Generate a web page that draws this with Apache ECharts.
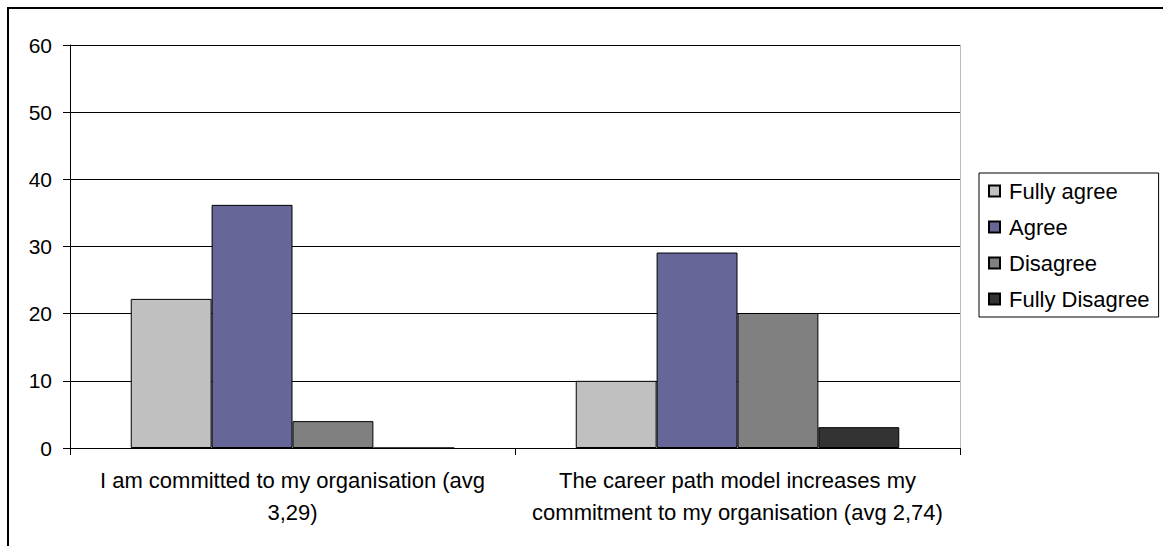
<!DOCTYPE html>
<html>
<head>
<meta charset="utf-8">
<script src="https://cdn.jsdelivr.net/npm/echarts@6/dist/echarts.min.js"></script>
<style>
  html, body { margin: 0; padding: 0; background: #fff; }
  #chart { width: 1163px; height: 546px; }
</style>
</head>
<body>
<div id="chart"></div>
<script>
// Survey answers per statement (percent of respondents)
const categories = [
  'I am committed to my organisation (avg 3,29)',
  'The career path model increases my commitment to my organisation (avg 2,74)'
];
const seriesNames = ['Fully agree', 'Agree', 'Disagree', 'Fully Disagree'];
const fullyAgree = [22.2, 10.0];
const agree = [36.2, 29.1];
const disagree = [4.0, 20.1];
const fullyDisagree = [0, 3.1];
const yMin = 0, yMax = 60, yStep = 10;

const colors = ['#C0C0C0', '#666699', '#808080', '#333333'];
const FONT = "'Liberation Sans', Arial, sans-serif";

// Greedy word wrap for the long category names
function wrapWords(text, maxChars) {
  const words = text.split(' ');
  const lines = [];
  let line = '';
  words.forEach(function (w) {
    const next = line ? line + ' ' + w : w;
    if (next.length > maxChars && line) {
      lines.push(line);
      line = w;
    } else {
      line = next;
    }
  });
  if (line) lines.push(line);
  return lines.join('\n');
}

const chart = echarts.init(document.getElementById('chart'), null, { renderer: 'svg' });

function barSeries(name, data, color) {
  return {
    name: name,
    type: 'bar',
    data: data,
    barGap: '0%',
    barCategoryGap: '27.3%',
    itemStyle: { color: color, borderColor: '#000', borderWidth: 1 },
    emphasis: { disabled: true }
  };
}

chart.setOption({
  animation: false,
  backgroundColor: '#fff',
  textStyle: { fontFamily: FONT },
  grid: { left: 70, right: 203, top: 45, bottom: 98, containLabel: false },
  legend: {
    orient: 'vertical',
    left: 979,
    top: 173,
    data: seriesNames,
    icon: 'rect',
    itemWidth: 11,
    itemHeight: 11,
    itemGap: 14,
    padding: [7, 9, 7, 9],
    borderColor: '#000',
    borderWidth: 1,
    backgroundColor: '#fff',
    selectedMode: false,
    textStyle: { fontSize: 22, color: '#000', fontFamily: FONT, lineHeight: 22, padding: [0, 0, 0, 4] }
  },
  xAxis: {
    type: 'category',
    data: categories,
    axisLine: { lineStyle: { color: '#000', width: 1 } },
    axisTick: { show: true, alignWithLabel: false, length: 7, lineStyle: { color: '#000' } },
    axisLabel: {
      color: '#000',
      fontSize: 22,
      fontFamily: FONT,
      lineHeight: 32,
      margin: 16,
      interval: 0,
      align: 'center',
      formatter: function (v) { return wrapWords(v, 42); }
    },
    splitLine: { show: false }
  },
  yAxis: [{
    type: 'value',
    min: yMin,
    max: yMax,
    interval: yStep,
    axisLine: { show: true, lineStyle: { color: '#000', width: 1 } },
    axisTick: { show: true, length: 7, lineStyle: { color: '#000' } },
    axisLabel: { color: '#000', fontSize: 21, fontFamily: FONT, margin: 18 },
    splitLine: { show: true, lineStyle: { color: '#000', width: 1 } }
  }, {
    // right edge of the plot frame
    type: 'value',
    position: 'right',
    min: yMin,
    max: yMax,
    interval: yStep,
    axisLine: { show: true, lineStyle: { color: '#BBBBBB', width: 1 } },
    axisTick: { show: false },
    axisLabel: { show: false },
    splitLine: { show: false }
  }],
  graphic: [{
    type: 'rect',
    shape: { x: 8, y: 8, width: 1300, height: 700 },
    style: { fill: 'none', stroke: '#000', lineWidth: 2 },
    silent: true,
    z: 100
  }],
  series: [
    barSeries(seriesNames[0], fullyAgree, colors[0]),
    barSeries(seriesNames[1], agree, colors[1]),
    barSeries(seriesNames[2], disagree, colors[2]),
    barSeries(seriesNames[3], fullyDisagree, colors[3])
  ]
});
</script>
</body>
</html>
